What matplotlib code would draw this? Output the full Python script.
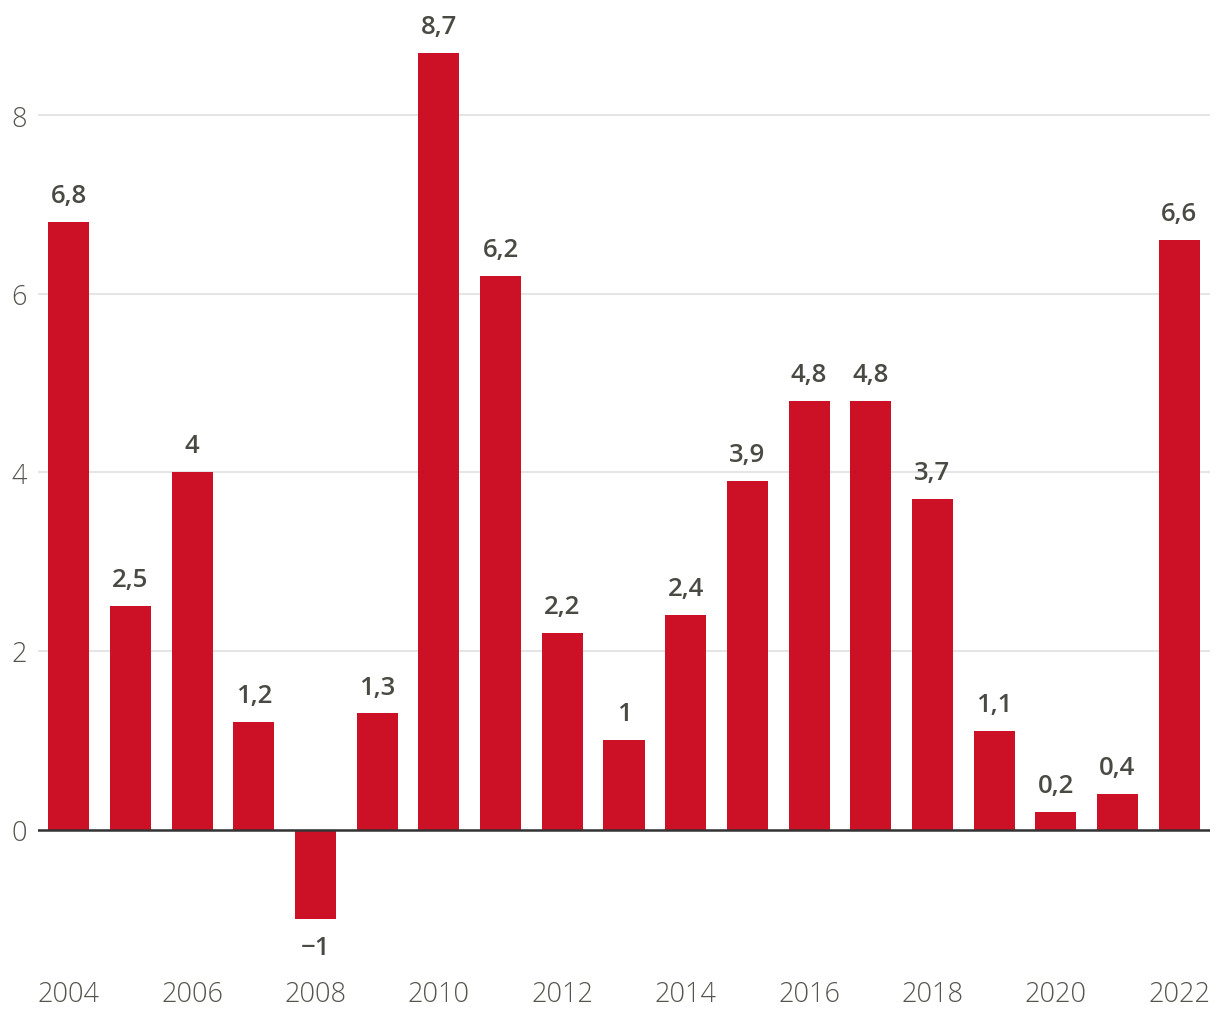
import matplotlib.pyplot as plt
from matplotlib.ticker import FixedLocator

years = [2004, 2005, 2006, 2007, 2008, 2009, 2010, 2011, 2012, 2013,
         2014, 2015, 2016, 2017, 2018, 2019, 2020, 2021, 2022]
values = [6.8, 2.5, 4.0, 1.2, -1.0, 1.3, 8.7, 6.2, 2.2, 1.0,
          2.4, 3.9, 4.8, 4.8, 3.7, 1.1, 0.2, 0.4, 6.6]
yticks = [0, 2, 4, 6, 8]

plt.rcParams['font.family'] = ['Open Sans', 'DejaVu Sans']

bar_color = '#cc1126'
text_color = '#4a4a44'
tick_color = '#55554f'

fig = plt.figure(figsize=(12.2, 10.2), dpi=100)
ax = fig.add_axes([38 / 1220, 1 - 960 / 1020, 1172 / 1220, 951 / 1020])

x = list(range(len(years)))
bars = ax.bar(x, values, width=0.665, color=bar_color, zorder=2)

def fmt(v):
    s = f"{v:.1f}".rstrip('0').rstrip('.')
    return s.replace('.', ',').replace('-', '\u2212')

for xi, v in zip(x, values):
    off = 10 if v >= 0 else -12
    ax.annotate(fmt(v), (xi, v), xytext=(0, off), textcoords='offset points',
                ha='center', va='bottom' if v >= 0 else 'top',
                fontsize=18.5, fontweight='semibold', color=text_color)

ax.set_xlim(-0.5, len(years) - 0.5)
ax.set_ylim(-1.45, 9.2)
ax.yaxis.set_major_locator(FixedLocator(yticks))
ax.set_yticklabels([str(t) for t in yticks])
ax.grid(axis='y', color='#e3e3e3', linewidth=1.3, zorder=0)
ax.axhline(0, color='#333333', linewidth=1.8, zorder=3)

xt = x[::2]
ax.set_xticks(xt)
ax.set_xticklabels([str(years[i]) for i in xt])

ax.tick_params(axis='both', length=0, labelsize=19.5, labelcolor=tick_color)
ax.tick_params(axis='x', pad=15)
ax.tick_params(axis='y', pad=8)
for lab in ax.get_xticklabels() + ax.get_yticklabels():
    lab.set_fontweight('light')

for s in ax.spines.values():
    s.set_visible(False)

fig.savefig('out.png', dpi=100)
